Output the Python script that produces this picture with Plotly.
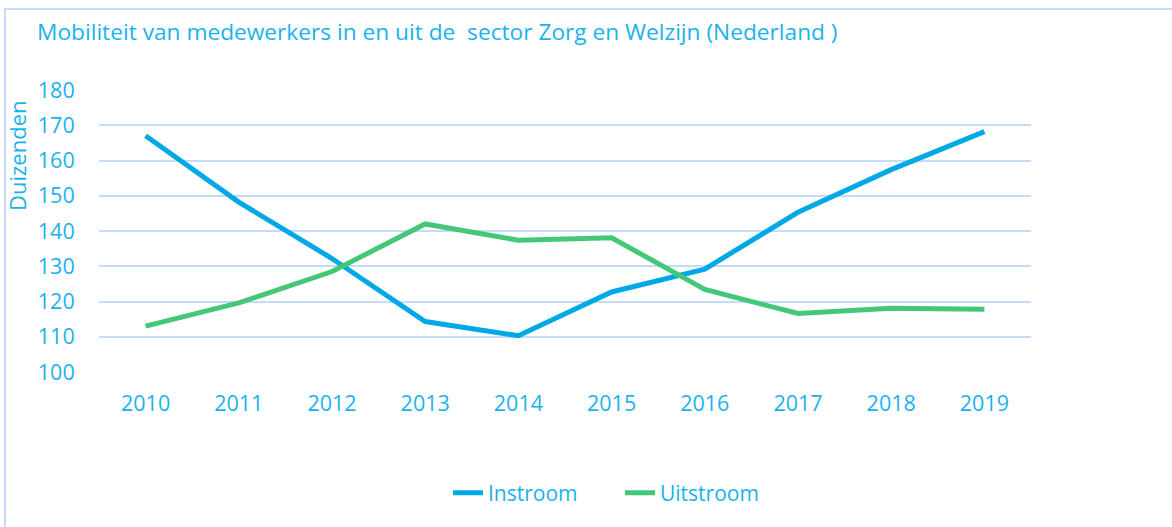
import plotly.graph_objects as go

years = ["2010", "2011", "2012", "2013", "2014", "2015", "2016", "2017", "2018", "2019"]
instroom = [167, 148.2, 132.2, 114.3, 110.3, 122.7, 129.2, 145.3, 157.4, 168.2]
uitstroom = [113.0, 119.6, 128.5, 142.0, 137.4, 138.1, 123.4, 116.6, 118.1, 117.8]
y_ticks = [100, 110, 120, 130, 140, 150, 160, 170, 180]

TXT = "#1AB2EE"
BLUE = "#00A9E6"
GREEN = "#44C877"
GRID = "#C4DCFA"
FONT = "Open Sans"

L, R, T, B = 99, 141, 90, 155
W, H = 1172, 527
pw, ph = W - L - R, H - T - B

fig = go.Figure()
fig.add_trace(go.Scatter(x=years, y=instroom, mode="lines", name="Instroom",
                         line=dict(color=BLUE, width=5)))
fig.add_trace(go.Scatter(x=years, y=uitstroom, mode="lines", name="Uitstroom",
                         line=dict(color=GREEN, width=5)))

fig.update_layout(
    width=W, height=H,
    margin=dict(l=L, r=R, t=T, b=B),
    paper_bgcolor="white", plot_bgcolor="white",
    font=dict(family=FONT, color=TXT, size=21),
    title=dict(text="Mobiliteit van medewerkers in en uit de  sector Zorg en Welzijn (Nederland )",
               x=37 / W, xanchor="left", y=1 - 32 / H, yanchor="middle",
               font=dict(family=FONT, size=22.7, color=TXT)),
    showlegend=True,
    legend=dict(orientation="h", x=(620 - L) / pw, xanchor="center",
                y=-(493 - (T + ph)) / ph, yanchor="middle",
                font=dict(size=21, color=TXT), entrywidth=127, entrywidthmode="pixels",
                bgcolor="rgba(0,0,0,0)"),
    xaxis=dict(type="category", range=[-0.5, 9.5], showgrid=False, showline=False,
               zeroline=False, ticks="outside", ticklen=12, tickcolor="rgba(0,0,0,0)",
               tickfont=dict(size=21.5, color=TXT)),
    yaxis=dict(range=[100, 180], tickvals=y_ticks, showgrid=True, gridcolor=GRID,
               gridwidth=1.5, zeroline=False, showline=False, ticks="outside",
               ticklen=19, tickcolor="rgba(0,0,0,0)", tickfont=dict(size=21.5, color=TXT)),
    annotations=[dict(text="Duizenden", textangle=-90, xref="paper", yref="paper",
                      x=(17 - L) / pw, y=(T + ph - 156) / ph, xanchor="center",
                      yanchor="middle", showarrow=False, font=dict(size=22, color=TXT))],
    shapes=[dict(type="rect", xref="paper", yref="paper",
                 x0=(5 - L) / pw, x1=(W + 20 - L) / pw,
                 y0=-(H + 20 - T - ph) / ph, y1=(T + ph - 9) / ph,
                 line=dict(color="#C4DCFA", width=2), layer="below")],
)

fig.write_html("out.html", config={"displayModeBar": False},
               post_script="document.body.style.margin='0';document.body.style.padding='0';")
